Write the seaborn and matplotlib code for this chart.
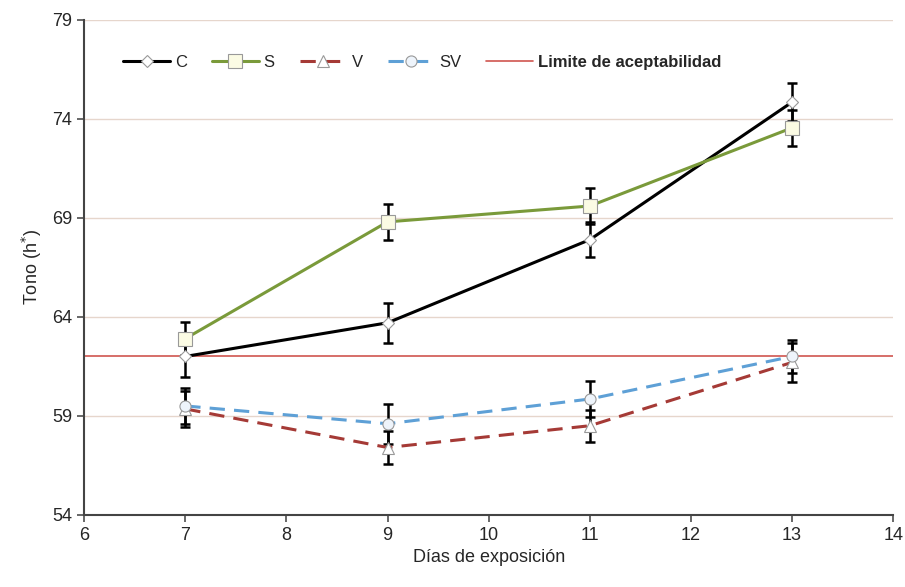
import numpy as np
import pandas as pd
import matplotlib
matplotlib.use("Agg")
import matplotlib.pyplot as plt
import seaborn as sns

# Data
dias = [7, 9, 11, 13]
tono_c = [62.0, 63.7, 67.9, 74.85]
tono_s = [62.9, 68.8, 69.6, 73.55]
tono_v = [59.35, 57.4, 58.5, 61.7]
tono_sv = [59.5, 58.6, 59.85, 62.0]
err_c = [1.05, 1.0, 0.9, 0.95]
err_s = [0.85, 0.9, 0.9, 0.9]
err_v = [0.9, 0.85, 0.8, 1.0]
err_sv = [0.9, 1.0, 0.9, 0.85]
limite = 62.0

sns.set_theme(style="white")
plt.rcParams['font.family'] = ['Liberation Sans', 'DejaVu Sans']

fig = plt.figure(figsize=(9.05, 5.87), dpi=100)
ax = fig.add_axes([0.093, 0.123, 0.894, 0.843])

for y in [59, 64, 69, 74, 79]:
    ax.axhline(y, color="#e6d6cc", lw=1, zorder=0)

# Limit line
ax.axhline(limite, color="#d0554f", lw=1.2, zorder=1, label="Limite de aceptabilidad")

series = [
    ("C", tono_c, err_c, "black", "-", "D", "white", 6.5),
    ("S", tono_s, err_s, "#7a9a3a", "-", "s", "#fbfbe4", 10),
    ("V", tono_v, err_v, "#a53a36", (0, (5, 3)), "^", "white", 9),
    ("SV", tono_sv, err_sv, "#5ea0d6", (0, (5, 3)), "o", "#eef4fb", 8),
]

for name, vals, errs, color, ls, mk, mfc, ms in series:
    ax.errorbar(dias, vals, yerr=errs, fmt="none", ecolor="black",
                elinewidth=1.8, capsize=3.5, capthick=1.8, zorder=3)
    df = pd.DataFrame({"dias": dias, "tono": vals})
    sns.lineplot(data=df, x="dias", y="tono", ax=ax, color=color,
                 linestyle=ls, linewidth=2.2, marker=mk, markersize=ms,
                 markerfacecolor=mfc, markeredgecolor="#999999",
                 markeredgewidth=0.8, zorder=4, label=name)

ax.set_xlim(6, 14)
ax.set_ylim(54, 79)
ax.set_xticks(range(6, 15))
ax.set_yticks([54, 59, 64, 69, 74, 79])
ax.set_xlabel("Días de exposición", fontsize=13, labelpad=4)
ax.set_ylabel("Tono (h$^{*}$)", fontsize=13, labelpad=6)
ax.tick_params(axis="both", labelsize=13, direction="out", length=5,
               color="#555555", left=True, bottom=True)

for side in ["top", "right"]:
    ax.spines[side].set_visible(False)
for side in ["left", "bottom"]:
    ax.spines[side].set_color("#444444")
    ax.spines[side].set_linewidth(1.5)

h, l = ax.get_legend_handles_labels()
order = [l.index(n) for n in ["C", "S", "V", "SV", "Limite de aceptabilidad"]]
leg = ax.legend([h[i] for i in order], [l[i] for i in order], ncol=5,
                loc="upper left", bbox_to_anchor=(0.03, 0.96), frameon=False,
                fontsize=12, handlelength=2.8, columnspacing=1.5,
                handletextpad=0.3)
for t in leg.get_texts():
    if t.get_text().startswith("Limite"):
        t.set_fontweight("bold")

fig.savefig("out.png", dpi=100)
